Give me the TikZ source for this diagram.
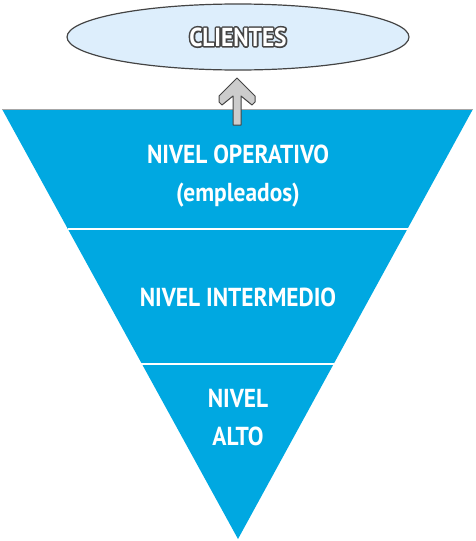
\documentclass[tikz,border=0pt]{standalone}
\usepackage{fontspec}
\usetikzlibrary{shapes.geometric,calc}
\setmainfont{PT Sans}
\newfontfamily\lblfont[FakeStretch=0.9]{PT Sans}
\definecolor{pyrblue}{HTML}{00A8E1}
\definecolor{cliefill}{HTML}{DDEEFC}
\definecolor{darkline}{HTML}{444444}
\definecolor{arrowgray}{HTML}{CCCCCC}
\newcommand{\outlinedtext}[1]{\rlap{\special{pdf:literal direct 2 Tr 3.2 w 1 j 0.27 0.27 0.27 RG 0.27 0.27 0.27 rg}#1\special{pdf:literal direct 0 Tr 1 1 1 rg}}#1}
\tikzset{
  lvltext/.style={text=white, font=\lblfont\bfseries\fontsize{26}{38}\selectfont, align=center},
  sepline/.style={draw=white, line width=1.5pt},
}
\begin{document}
\begin{tikzpicture}[x=1pt,y=-1pt]
\useasboundingbox (0,0) rectangle (475,541);
% triangle
\fill[pyrblue] (2,109) -- (473,109) -- (238,539) -- cycle;
\draw[gray!70, line width=0.8pt] (2,109) -- (473,109);
\draw[sepline] (68,229) -- (408,229);
\draw[sepline] (141,364) -- (334,364);
% ellipse
\node[draw=darkline, fill=cliefill, ellipse, line width=1.2pt, minimum width=342pt, minimum height=66pt, inner sep=0pt] (cli) at (238,37) {};
\node[text=white, font=\lblfont\bfseries\fontsize{26}{30}\selectfont] (clitext) at (cli.center) {\outlinedtext{CLIENTES}};
% arrow
\draw[fill=arrowgray, draw=darkline, line width=1pt, line join=round]
  (233,125) -- (233,96) -- (222,105) -- (219,102) -- (219,96) -- (237,78) -- (255,96) -- (255,102) -- (252,105) -- (241,96) -- (241,125) -- cycle;
% labels
\node[lvltext] (op) at (238,176) {NIVEL OPERATIVO\\(empleados)};
\node[lvltext] (in) at (238,297) {NIVEL INTERMEDIO};
\node[lvltext] (al) at (238,418) {NIVEL\\ALTO};
\end{tikzpicture}
\end{document}
